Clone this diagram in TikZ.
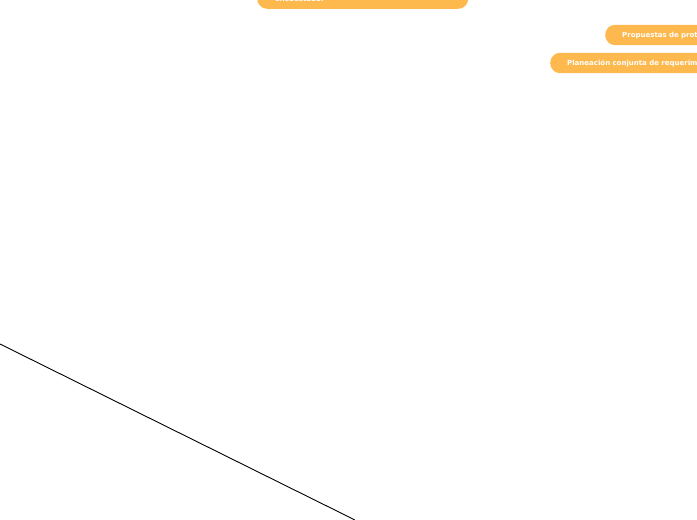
\documentclass[tikz,border=0pt]{standalone}
\usepackage{fontspec}
\setmainfont{DejaVu Sans}
\usepackage{xcolor}
\usetikzlibrary{positioning}
\definecolor{topicorange}{HTML}{FDB84E}
\tikzset{
    topic/.style={fill=topicorange, rounded corners=10pt, text=white,
        font=\bfseries\fontsize{7}{8.4}\selectfont, align=left,
        inner xsep=17pt, inner ysep=7pt, text height=5.2pt, text depth=1.2pt}
}

\begin{document}
\begin{tikzpicture}[x=1pt, y=-1pt]
                        \useasboundingbox (0, 0) rectangle (697, 520);
                        \clip (0, 0) rectangle (697, 520);
                        \node[topic, anchor=south west, text width=175pt, inner xsep=18pt, text height=20pt, text depth=0pt] (encuesta) at (257, 9) {encuestado.};
                        \node[topic, anchor=west, text width=180pt] (propuestas) at (605, 35) {Propuestas de prot};
                        \node[topic, anchor=west, text width=200pt] (planeacion) at (550, 63) {Planeación conjunta de requerim};
                        \coordinate (linea1) at (0, 344);
                        \coordinate (linea2) at (355, 520);
                        \draw[line width=0.9pt] (linea1) -- (linea2);
                    \end{tikzpicture}
\end{document}
